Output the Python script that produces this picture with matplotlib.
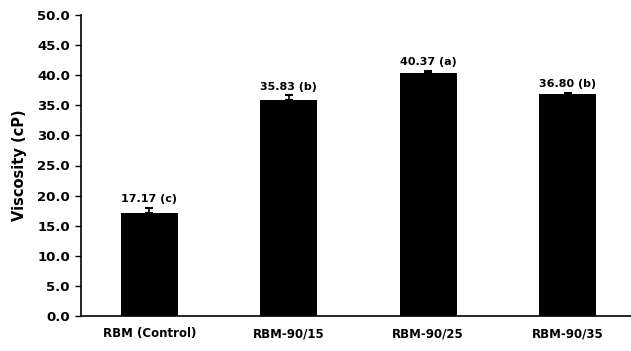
import matplotlib.pyplot as plt
import numpy as np

# viscosity of rice bran milk samples
samples = ['RBM (Control)', 'RBM-90/15', 'RBM-90/25', 'RBM-90/35']
viscosity = [17.17, 35.83, 40.37, 36.80]
std_err = [0.8, 0.8, 0.4, 0.3]
groups = ['c', 'b', 'a', 'b']
yticks = np.arange(0, 50.1, 5)

plt.rcParams['font.family'] = ['DejaVu Sans']

fig = plt.figure(figsize=(6.31, 3.51), dpi=100)
ax = fig.add_axes([81 / 631, 35 / 351, 550 / 631, 301 / 351])

x = np.arange(len(samples))
ax.bar(x, viscosity, width=0.41, color='black', zorder=2)
ax.errorbar(x, viscosity, yerr=[[0] * len(x), std_err], fmt='none',
            ecolor='black', elinewidth=1.2, capsize=3, capthick=1.5, zorder=3)

for xi, v, e, g in zip(x, viscosity, std_err, groups):
    ax.text(xi, v + e + 0.6, f'{v:.2f} ({g})', ha='center', va='bottom',
            fontsize=8, fontweight='bold')

ax.set_xlim(-0.49, 3.455)
ax.set_ylim(0, 50)
ax.set_yticks(yticks)
ax.set_yticklabels([f'{t:.1f}' for t in yticks], fontsize=9.5, fontweight='bold')
ax.set_xticks(x)
ax.set_xticklabels(samples, fontsize=8.5, fontweight='bold')
ax.tick_params(axis='x', length=0, pad=8)
ax.tick_params(axis='y', length=4, width=1, pad=4)
ax.set_ylabel('Viscosity (cP)', fontsize=10.5, fontweight='bold', labelpad=7)

for side in ['top', 'right']:
    ax.spines[side].set_visible(False)
ax.spines['left'].set_linewidth(1.2)
ax.spines['bottom'].set_linewidth(1.2)

fig.savefig('out.png', dpi=100)
